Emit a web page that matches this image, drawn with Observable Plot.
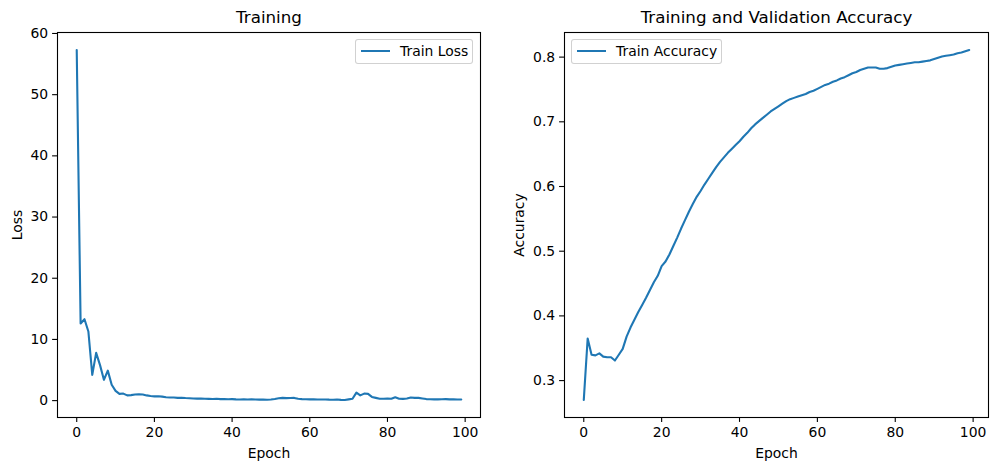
<!DOCTYPE html>
<html>
<head>
<meta charset="utf-8">
<script src="https://cdn.jsdelivr.net/npm/d3@7"></script>
<script src="https://cdn.jsdelivr.net/npm/@observablehq/plot@0.6"></script>
<style>
  html, body { margin: 0; padding: 0; background: #fff; }
  #fig { position: relative; width: 996px; height: 470px; font-family: "DejaVu Sans", sans-serif; }
  #fig > svg { position: absolute; top: 0; }
  .legend { position: absolute; box-sizing: border-box; border: 1px solid rgba(204,204,204,0.9); border-radius: 3px; background: rgba(255,255,255,0.8); font-size: 13.9px; color: #000; }
  .legend .swatch { position: absolute; height: 2px; background: #1f77b4; }
  .legend .lab { position: absolute; white-space: nowrap; line-height: 16px; }
</style>
</head>
<body>
<div id="fig"></div>
<script>
// ---- data ----
const epochs = d3.range(100);
const trainLoss = [
  57.3, 12.6, 13.3, 11.3, 4.2, 7.8, 5.8, 3.4, 4.9, 2.6,
  1.6, 1.1, 1.15, 0.85, 0.9, 1.0, 1.05, 1.0, 0.85, 0.75,
  0.7, 0.72, 0.65, 0.55, 0.5, 0.52, 0.45, 0.48, 0.42, 0.38,
  0.35, 0.33, 0.35, 0.3, 0.28, 0.27, 0.3, 0.25, 0.24, 0.22,
  0.25, 0.2, 0.19, 0.2, 0.18, 0.2, 0.17, 0.16, 0.18, 0.15,
  0.17, 0.25, 0.38, 0.45, 0.4, 0.42, 0.44, 0.3, 0.25, 0.22,
  0.2, 0.2, 0.18, 0.17, 0.19, 0.16, 0.15, 0.17, 0.12, 0.1,
  0.2, 0.3, 1.3, 0.85, 1.15, 1.1, 0.6, 0.45, 0.3, 0.3,
  0.35, 0.3, 0.55, 0.3, 0.28, 0.35, 0.5, 0.45, 0.45, 0.35,
  0.25, 0.22, 0.2, 0.2, 0.22, 0.25, 0.2, 0.2, 0.18, 0.18
];
const trainAcc = [
  0.270, 0.365, 0.340, 0.339, 0.342, 0.337, 0.336, 0.336, 0.331, 0.340,
  0.349, 0.368, 0.382, 0.394, 0.406, 0.417, 0.428, 0.440, 0.452, 0.462,
  0.477, 0.484, 0.495, 0.508, 0.521, 0.535, 0.548, 0.561, 0.573, 0.584,
  0.593, 0.603, 0.612, 0.621, 0.630, 0.638, 0.645, 0.652, 0.658, 0.664,
  0.670, 0.677, 0.683, 0.690, 0.696, 0.701, 0.706, 0.711, 0.716, 0.720,
  0.724, 0.728, 0.732, 0.735, 0.737, 0.739, 0.741, 0.743, 0.746, 0.748,
  0.751, 0.754, 0.757, 0.759, 0.762, 0.764, 0.767, 0.769, 0.772, 0.775,
  0.777, 0.780, 0.782, 0.784, 0.784, 0.784, 0.782, 0.782, 0.783, 0.785,
  0.787, 0.788, 0.789, 0.790, 0.791, 0.792, 0.792, 0.793, 0.794, 0.795,
  0.797, 0.799, 0.801, 0.802, 0.803, 0.804, 0.806, 0.807, 0.809, 0.811
];
const xTicks = [0, 20, 40, 60, 80, 100];
const lossTicks = [0, 10, 20, 30, 40, 50, 60];
const accTicks = [0.3, 0.4, 0.5, 0.6, 0.7, 0.8];
const titles = ["Training", "Training and Validation Accuracy"];
const yLabels = ["Loss", "Accuracy"];
const xLabel = "Epoch";
const seriesNames = ["Train Loss", "Train Accuracy"];

// ---- helpers ----
const blue = "#1f77b4";
function padDomain(vals, frac) {
  const [a, b] = d3.extent(vals);
  const m = (b - a) * frac;
  return [a - m, b + m];
}
const xDomain = padDomain(epochs, 0.05);

function panel({values, yTicks, fmt, title, ylab, width, marginLeft, marginRight, ylabDx}) {
  const data = epochs.map((e, i) => ({epoch: e, v: values[i]}));
  return Plot.plot({
    width, height: 470,
    marginLeft, marginRight, marginTop: 32, marginBottom: 53,
    style: {fontFamily: "DejaVu Sans", fontSize: "13.9px", color: "#000", background: "transparent", overflow: "visible"},
    x: {domain: xDomain},
    y: {domain: padDomain(values, 0.05)},
    marks: [
      Plot.line(data, {x: "epoch", y: "v", stroke: blue, strokeWidth: 2.1}),
      Plot.frame({stroke: "#000", strokeWidth: 1.1}),
      Plot.axisX({ticks: xTicks, tickSize: 4.9, tickPadding: 4.4, label: null, strokeWidth: 1.1, tickFormat: d3.format("d")}),
      Plot.axisY({ticks: yTicks, tickSize: 4.9, tickPadding: 4.4, label: null, strokeWidth: 1.1, tickFormat: fmt}),
      Plot.text([title], {frameAnchor: "top", dy: -15, fontSize: 16.7, lineAnchor: "middle", textAnchor: "middle", fill: "#000"}),
      Plot.text([xLabel], {frameAnchor: "bottom", dy: 36, lineAnchor: "middle", textAnchor: "middle", fill: "#000"}),
      Plot.text([ylab], {frameAnchor: "left", dx: ylabDx, rotate: -90, lineAnchor: "middle", textAnchor: "middle", fill: "#000"})
    ]
  });
}

const fig = document.getElementById("fig");
const left = panel({values: trainLoss, yTicks: lossTicks, fmt: d3.format("d"), title: titles[0], ylab: yLabels[0],
  width: 490, marginLeft: 57, marginRight: 10, ylabDx: -40});
left.style.left = "0px";
fig.appendChild(left);

const right = panel({values: trainAcc, yTicks: accTicks, fmt: d3.format(".1f"), title: titles[1], ylab: yLabels[1],
  width: 506, marginLeft: 74, marginRight: 8, ylabDx: -45});
right.style.left = "490px";
fig.appendChild(right);

function legend(x, y, w, name) {
  const d = document.createElement("div");
  d.className = "legend";
  d.style.left = x + "px"; d.style.top = y + "px"; d.style.width = w + "px"; d.style.height = "25px";
  const s = document.createElement("div");
  s.className = "swatch";
  s.style.left = "5px"; s.style.top = "10px"; s.style.width = "29px";
  const t = document.createElement("div");
  t.className = "lab";
  t.style.left = "44px"; t.style.top = "3px";
  t.textContent = name;
  d.appendChild(s); d.appendChild(t);
  fig.appendChild(d);
}
legend(355, 39, 118, seriesNames[0]);
legend(571, 39, 151, seriesNames[1]);
</script>
</body>
</html>
